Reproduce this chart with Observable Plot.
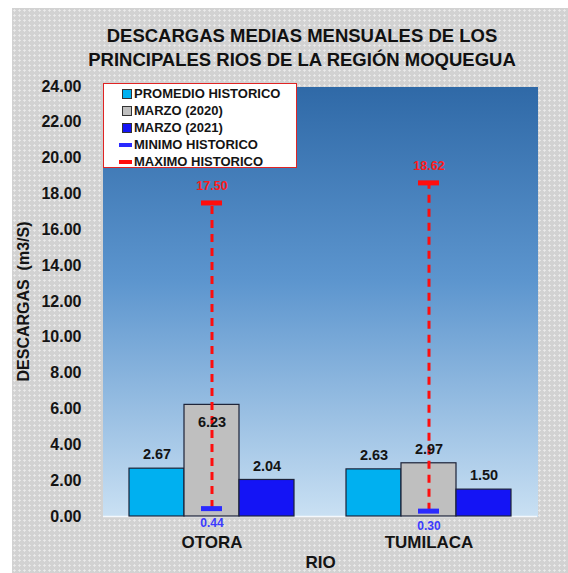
<!DOCTYPE html>
<html>
<head>
<meta charset="utf-8">
<script src="https://cdn.jsdelivr.net/npm/d3@7"></script>
<script src="https://cdn.jsdelivr.net/npm/@observablehq/plot@0.6"></script>
<style>
  body { margin: 0; background: #fff; }
  #wrap {
    position: relative; width: 568px; height: 573px; box-sizing: border-box;
    border-top: 8px solid #fff; border-left: 12px solid #fff;
    background-color: #d2d2d2;
    background-image: radial-gradient(#ebebeb 0.9px, transparent 1.3px);
    background-size: 5px 5px;
    font-family: "Liberation Sans", Arial, sans-serif; overflow: hidden; color: #141414;
  }
  #title {
    height: 62px; box-sizing: border-box; padding-top: 16px; padding-left: 24px;
    text-align: center; font-weight: bold; font-size: 18.5px; line-height: 24px; color: #111;
  }
  #legend {
    position: absolute; left: 91px; top: 75px; width: 194px; height: 85px; box-sizing: border-box;
    background: #fff; border: 1.5px solid #e02424; padding: 1px 0 0 18px; z-index: 2;
    font-weight: bold; font-size: 13px; color: #141414;
  }
  .item { height: 17px; display: flex; align-items: center; white-space: nowrap; }
  .sw { width: 8px; height: 8px; border: 1px solid #333; margin-right: 2px; }
  .ln { width: 13px; height: 4px; margin-left: -3px; margin-right: 2px; }
  #chart svg { display: block; }
</style>
</head>
<body>
<div id="wrap">
  <div id="title">DESCARGAS MEDIAS MENSUALES DE LOS<br>PRINCIPALES RIOS DE LA REGIÓN MOQUEGUA</div>
  <div id="legend"></div>
  <div id="chart"></div>
</div>
<script>
const rios = ["OTORA", "TUMILACA"];
const series = ["PROMEDIO HISTORICO", "MARZO (2020)", "MARZO (2021)"];
const promedioHistorico = [2.67, 2.63];
const marzo2020 = [6.23, 2.97];
const marzo2021 = [2.04, 1.50];
const minimoHistorico = [0.44, 0.30];
const maximoHistorico = [17.50, 18.62];
const rangeNames = ["MINIMO HISTORICO", "MAXIMO HISTORICO"];
const seriesColors = ["#00b0f0", "#bfbfbf", "#1414f5"];
const rangeColors = ["#2a2aff", "#ff0d0d"];
const yTicks = [0, 2, 4, 6, 8, 10, 12, 14, 16, 18, 20, 22, 24];

const seriesValues = [promedioHistorico, marzo2020, marzo2021];
const data = rios.flatMap((rio, i) => series.map((serie, j) => ({rio, serie, value: seriesValues[j][i]})));
const ranges = rios.map((rio, i) => ({rio, min: minimoHistorico[i], max: maximoHistorico[i]}));
const rangeSerie = () => series[1];
const fmt = d3.format(".2f");

// legend
const legend = d3.select("#legend");
series.forEach((s, i) => {
  const it = legend.append("div").attr("class", "item");
  it.append("div").attr("class", "sw").style("background", seriesColors[i]);
  it.append("span").text(s);
});
rangeNames.forEach((s, i) => {
  const it = legend.append("div").attr("class", "item");
  it.append("div").attr("class", "ln").style("background", rangeColors[i]);
  it.append("span").text(s);
});

const chart = Plot.plot({
  width: 556,
  height: 503,
  marginLeft: 90,
  marginRight: 31,
  marginTop: 16,
  marginBottom: 57,
  style: {background: "transparent", fontFamily: "Liberation Sans, Arial, sans-serif", color: "#141414", overflow: "visible"},
  fx: {domain: rios, padding: 0, label: "RIO"},
  x: {domain: series, paddingInner: 0, paddingOuter: 0.455, axis: null},
  y: {domain: [0, 24]},
  color: {domain: series, range: seriesColors},
  marks: [
    Plot.frame({fill: "url(#bgGrad)", insetLeft: -0.6, insetRight: -0.6, shapeRendering: "crispEdges"}),
    Plot.ruleY([0], {stroke: "#f4f8fc", strokeWidth: 1.5}),
    Plot.barY(data, {fx: "rio", x: "serie", y: "value", fill: "serie", stroke: "#1c2238", strokeWidth: 1.2}),
    Plot.ruleX(ranges, {fx: "rio", x: rangeSerie, y1: "min", y2: "max", stroke: rangeColors[1], strokeWidth: 3, strokeDasharray: "8,6"}),
    Plot.tickY(ranges, {fx: "rio", x: rangeSerie, y: "min", stroke: rangeColors[0], strokeWidth: 5, insetLeft: 17, insetRight: 17}),
    Plot.tickY(ranges, {fx: "rio", x: rangeSerie, y: "max", stroke: rangeColors[1], strokeWidth: 5, insetLeft: 17, insetRight: 17}),
    Plot.text(ranges, {fx: "rio", x: rangeSerie, y: "max", text: d => fmt(d.max), dy: -17, fill: "#ff1a1a", fontSize: 12.5, fontWeight: "bold"}),
    Plot.text(ranges, {fx: "rio", x: rangeSerie, y: "min", text: d => fmt(d.min), dy: 15, fill: "#3a3aff", fontSize: 12, fontWeight: "bold"}),
    Plot.text(data.filter(d => d.value < 5), {fx: "rio", x: "serie", y: "value", text: d => fmt(d.value), dy: -14, fontSize: 14.5, fontWeight: "bold", fill: "#141414"}),
    Plot.text(data.filter(d => d.value >= 5), {fx: "rio", x: "serie", y: "value", text: d => fmt(d.value), dy: 17, fontSize: 14.5, fontWeight: "bold", fill: "#141414"}),
    Plot.axisY({ticks: yTicks, tickFormat: fmt, tickSize: 0, tickPadding: 22, fontSize: 16, fontWeight: "bold",
      label: "DESCARGAS  (m3/S)", labelAnchor: "center", labelOffset: 86, labelArrow: "none"}),
    Plot.axisFx({anchor: "bottom", tickSize: 0, tickPadding: 19, fontSize: 17, fontWeight: "bold",
      label: "RIO", labelAnchor: "center", labelOffset: 51, labelArrow: "none"})
  ]
});

d3.select(chart).insert("defs", ":first-child").html(
  '<linearGradient id="bgGrad" x1="0" y1="0" x2="0" y2="1">' +
  '<stop offset="0" stop-color="#2f69a7"/>' +
  '<stop offset="0.45" stop-color="#5c95ce"/>' +
  '<stop offset="1" stop-color="#c9e0f3"/>' +
  '</linearGradient>'
);
document.getElementById("chart").appendChild(chart);
</script>
</body>
</html>
